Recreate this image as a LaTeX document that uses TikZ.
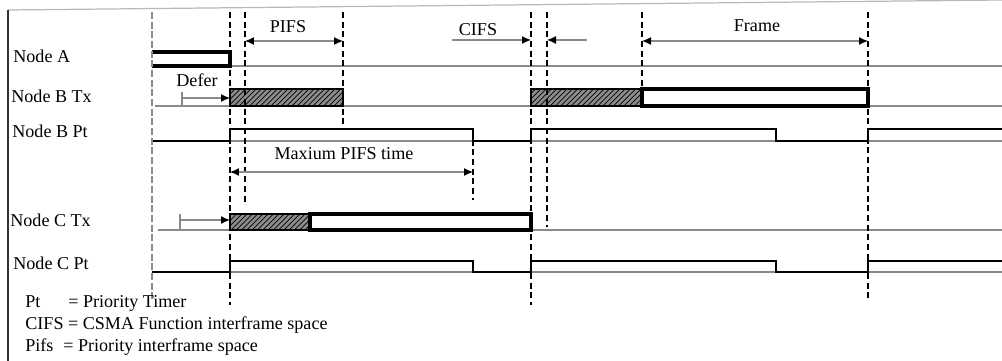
\documentclass[tikz,border=0pt]{standalone}
\usepackage{fontspec}
\setmainfont{Liberation Serif}
\usetikzlibrary{arrows.meta,patterns}
\definecolor{ScanGray}{HTML}{8A8A8A}
\definecolor{HatchGray}{HTML}{8C8C8C}

\tikzset{
  mark line/.style={line width=1.5pt,dash pattern=on 3.5pt off 2pt},
  base line/.style={ScanGray,line width=0.7pt},
  pt line/.style={line width=1pt},
  frame box/.style={draw,line width=2.2pt,fill=white},
  hatch box/.style={draw,line width=0.7pt,fill=HatchGray,postaction={pattern=north east lines}},
  span/.style={ScanGray,line width=0.7pt,arrows={-{Latex[length=1.8mm,width=1.6mm,black]}}},
  twospan/.style={span,arrows={{Latex[length=1.8mm,width=1.6mm,black]}-{Latex[length=1.8mm,width=1.6mm,black]}}},
  row label/.style={anchor=base west,inner sep=0pt},
  key label/.style={anchor=base west,inner sep=0pt},
  span label/.style={anchor=base,inner sep=0pt}
}

\begin{document}
\begin{tikzpicture}[x=0.02cm,y=-0.02cm,font=\fontsize{10.3}{12}\selectfont]
  \useasboundingbox (0,0) rectangle (1002,361);
  % time marks and signal levels
  \foreach \n/\x in {t0/152,t1/230,t2/245,t3/343,tc/310,t4/473,t5/531,t6/547,t7/642,t8/776,t9/868,tend/1002}
    \coordinate (\n) at (\x,0);
  \foreach \n/\y in {top/12,aHi/52,aLo/66,bTxHi/89,bTxLo/106,bPtHi/129,bPtLo/141,cTxHi/214,cTxLo/230,cPtHi/261,cPtLo/272}
    \coordinate (\n) at (0,\y);
  % frame
  \draw[ScanGray!60,line width=0.7pt] (tend|-10,0) -- (8,10);
  \draw[line width=0.9pt,black!80] (8,10) -- (8,361);
  % row names
  \node[row label] (labA) at (13,63) {Node A};
  \node[row label] (labBTx) at (11,103) {Node B Tx};
  \node[row label] (labBPt) at (12,138) {Node B Pt};
  \node[row label] (labCTx) at (10,227) {Node C Tx};
  \node[row label] (labCPt) at (13,270) {Node C Pt};
  % base lines
  \draw[base line] (t0|-aLo) -- (tend|-aLo);
  \draw[base line] (155,106) -- (tend|-bTxLo);
  \draw[base line] (t0|-bPtLo) -- (tend|-bPtLo);
  \draw[base line] (158,230) -- (tend|-cTxLo);
  \draw[base line] (t0|-cPtLo) -- (tend|-cPtLo);
  % Node A
  \draw[line width=2.2pt] (t0|-aHi) -- (t1|-aHi) -- (t1|-aLo) -- (t0|-aLo);
  % Node B Tx
  \path[hatch box] (t1|-bTxHi) rectangle (t3|-bTxLo);
  \path[hatch box] (t5|-bTxHi) rectangle (t7|-bTxLo);
  \path[frame box] (t7|-bTxHi) rectangle (t9|-bTxLo);
  % Node B Pt
  \draw[pt line] (t0|-bPtLo) -- (t1|-bPtLo) -- (t1|-bPtHi) -- (t4|-bPtHi) -- (t4|-bPtLo)
    -- (t5|-bPtLo) -- (t5|-bPtHi) -- (t8|-bPtHi) -- (t8|-bPtLo) -- (t9|-bPtLo)
    -- (t9|-bPtHi) -- (tend|-bPtHi);
  % Node C Tx
  \path[hatch box] (t1|-cTxHi) rectangle (tc|-cTxLo);
  \path[frame box] (tc|-cTxHi) rectangle (t5|-cTxLo);
  % Node C Pt
  \draw[pt line] (t0|-cPtLo) -- (t1|-cPtLo) -- (t1|-cPtHi) -- (t4|-cPtHi) -- (t4|-cPtLo)
    -- (t5|-cPtLo) -- (t5|-cPtHi) -- (t8|-cPtHi) -- (t8|-cPtLo) -- (t9|-cPtLo)
    -- (t9|-cPtHi) -- (tend|-cPtHi);
  % dashed time marks
  \draw[ScanGray,line width=0.7pt,dash pattern=on 4pt off 1.5pt] (t0|-top) -- (t0|-0,300);
  \draw[mark line] (t1|-top) -- (t1|-0,305);
  \draw[mark line] (t2|-top) -- (t2|-0,205);
  \draw[mark line] (t3|-top) -- (t3|-0,125);
  \draw[mark line] (t4|-0,130) -- (t4|-0,200);
  \draw[mark line] (t5|-top) -- (t5|-0,305);
  \draw[mark line] (t6|-top) -- (t6|-0,227);
  \draw[mark line] (t7|-top) -- (t7|-0,88);
  \draw[mark line] (t9|-top) -- (t9|-0,300);
  % spans
  \coordinate (pifsY) at (0,41);
  \coordinate (cifsL) at (452,40);
  \coordinate (cifsR) at (587,40);
  \coordinate (deferS) at (182,98);
  \coordinate (cdeferS) at (180,220);
  \coordinate (maxY) at (0,172);
  \draw[twospan] (t2|-pifsY) -- (t3|-pifsY);
  \node[span label] (pifs) at (288,33) {PIFS};
  \draw[span] (cifsL) -- (t5|-cifsL);
  \draw[span] (cifsR) -- (t6|-cifsR);
  \node[span label] (cifs) at (478,36) {CIFS};
  \draw[twospan] (t7|-pifsY) -- (t9|-pifsY);
  \node[span label] (frame) at (757,32) {Frame};
  \draw[ScanGray,line width=0.7pt] (182,92) -- (182,106);
  \draw[span] (deferS) -- (t1|-deferS);
  \node[span label] (defer) at (197,87) {Defer};
  \draw[twospan] (t1|-maxY) -- (t4|-maxY);
  \node[span label] (maxpifs) at (344,160) {Maxium PIFS time};
  \draw[ScanGray,line width=0.7pt] (180,214) -- (180,230);
  \draw[span] (cdeferS) -- (t1|-cdeferS);
  % legend
  \node[key label] (keyPt) at (25,308) {Pt};
  \node[key label] (defPt) at (68,308) {= Priority Timer};
  \node[key label] (keyCifs) at (25,330) {CIFS = CSMA Function interframe space};
  \node[key label] (keyPifs) at (25,352) {Pifs};
  \node[key label] (defPifs) at (63,352) {= Priority interframe space};
\end{tikzpicture}
\end{document}
